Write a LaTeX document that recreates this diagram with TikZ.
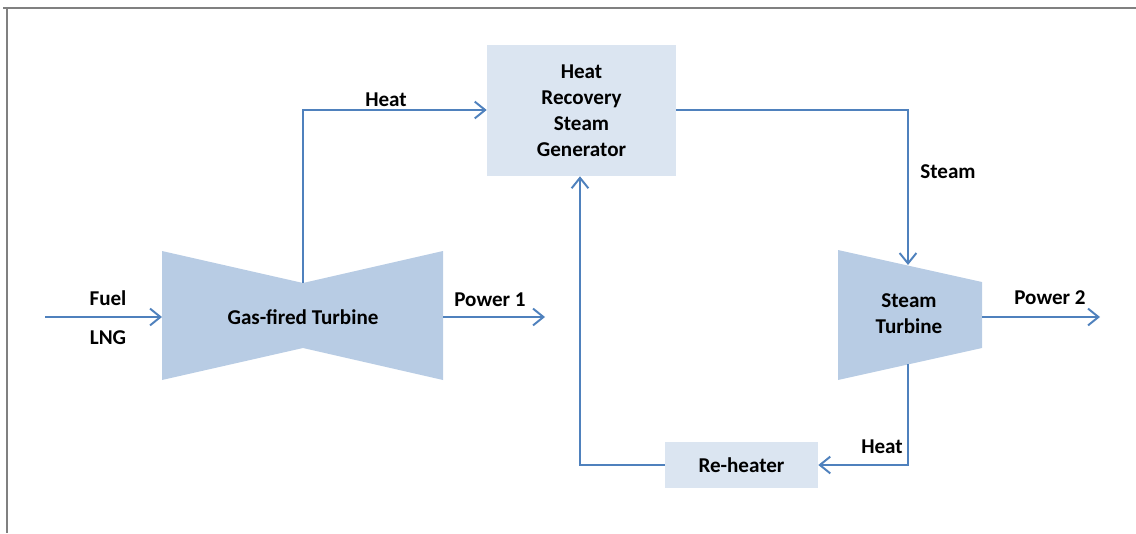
\documentclass[tikz,border=0pt]{standalone}
\usepackage{fontspec}
\setmainfont{Carlito}
\usepackage{tikz}
\usetikzlibrary{arrows.meta,positioning}
\definecolor{boxblue}{RGB}{219,229,241}
\definecolor{turbblue}{RGB}{184,204,228}
\definecolor{linkblue}{RGB}{79,129,189}

\begin{document}
\begin{tikzpicture}[x=0.025cm,y=-0.025cm,
unit/.style={fill=boxblue,align=center,inner sep=0pt,
font=\fontsize{15}{18.5}\selectfont\bfseries},
label/.style={font=\fontsize{15}{18.5}\selectfont\bfseries,inner sep=0pt,align=center},
turbine/.style={fill=turbblue,draw=none},
arrow/.style={-{Straight Barb[length=2.6mm,width=4.2mm]},line width=1.4pt,draw=linkblue}]
\useasboundingbox (0,0) rectangle (1136,533);
\draw[black!50,line width=0.8pt] (3,8)--(1136,8);
\draw[black!50,line width=0.8pt] (7,8)--(7,533);
% gas-fired turbine
\coordinate (gtin) at (162,317); \coordinate (gtout) at (443,317);
\coordinate (gttop) at (303,283);
\fill[turbine] (162,251)--(303,283)--(443,251)--(443,380)--(303,348)--(162,380)--cycle;
\node[label] (gt) at (303,317) {Gas-fired Turbine};
% steam turbine
\coordinate (stin) at (908,265); \coordinate (stout) at (982,317);
\coordinate (stbot) at (908,364);
\fill[turbine] (838,250)--(982,282)--(982,348)--(838,380)--cycle;
\node[label] (st) at (909,314) {Steam\\Turbine};
% boxes
\node[unit,minimum width=4.725cm,minimum height=3.275cm] (hrsg) at (581.5,110.5)
{Heat\\Recovery\\Steam\\Generator};
\node[unit,minimum width=3.825cm,minimum height=1.15cm] (rh) at (741.5,465) {Re-heater};
% open ends
\coordinate (fuel) at (45,317); \coordinate (p1) at (545,317);
\coordinate (p2) at (1100,317);
\draw[arrow] (fuel)--(gtin); \draw[arrow] (gtout)--(p1);
\draw[arrow] (stout)--(p2);
\draw[arrow] (gttop)|-(hrsg.west|-0,110);
\draw[arrow] (hrsg.east|-0,110)-|(stin);
\draw[arrow] (stbot)|-(rh.east);
\draw[arrow] (rh.west)-|(hrsg.south-|580,0);
\node[label] (lfuel) at (108,298) {Fuel};
\node[label] (llng) at (108,338) {LNG};
\node[label] (lp1) at (490,300) {Power 1};
\node[label] (lp2) at (1050,298) {Power 2};
\node[label] (lheat1) at (386,100) {Heat};
\node[label] (lsteam) at (948,172) {Steam};
\node[label] (lheat2) at (882,447) {Heat};
\end{tikzpicture}
\end{document}
